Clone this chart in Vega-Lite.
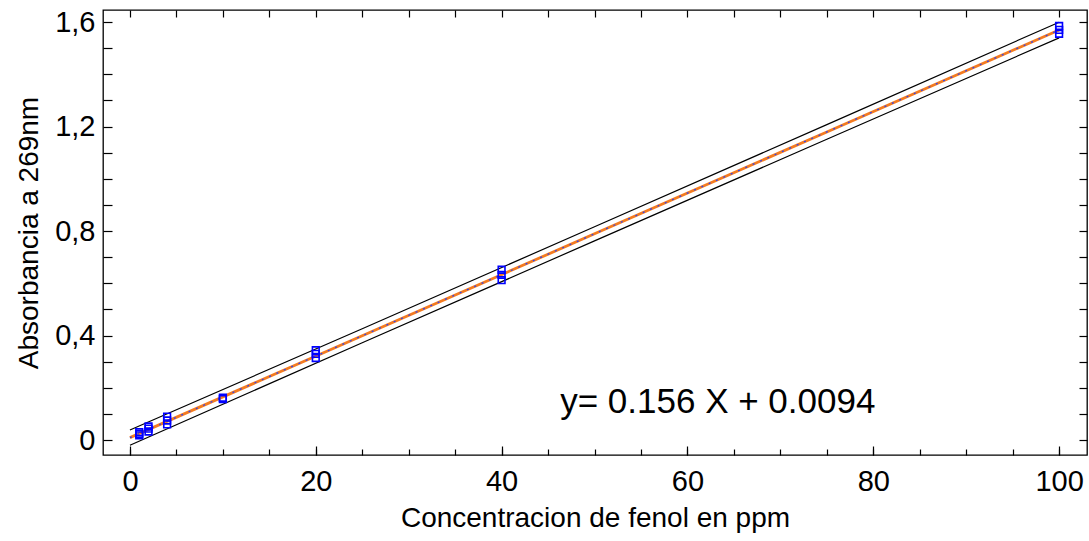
{
  "$schema": "https://vega.github.io/schema/vega-lite/v6.json",
  "width": 984,
  "height": 445,
  "autosize": {"type": "none"},
  "padding": {"left": 103, "top": 10, "right": 2, "bottom": 86},
  "background": "white",
  "config": {
    "view": {"stroke": "#000", "strokeWidth": 1.3},
    "font": "Liberation Sans",
    "axis": {
      "domain": false, "grid": false, "tickColor": "#000", "tickWidth": 1.2,
      "labelColor": "#000", "titleColor": "#000",
      "labelFont": "Liberation Sans", "titleFont": "Liberation Sans",
      "titleFontWeight": "normal", "labelFontSize": 29, "titleFontSize": 28
    }
  },
  "datasets": {
    "pts": [
      {"x": 1, "y": 0.018}, {"x": 1, "y": 0.024}, {"x": 1, "y": 0.03},
      {"x": 2, "y": 0.033}, {"x": 2, "y": 0.044}, {"x": 2, "y": 0.052},
      {"x": 4, "y": 0.06}, {"x": 4, "y": 0.075}, {"x": 4, "y": 0.09},
      {"x": 10, "y": 0.157}, {"x": 10, "y": 0.162},
      {"x": 20, "y": 0.314}, {"x": 20, "y": 0.33}, {"x": 20, "y": 0.344},
      {"x": 40, "y": 0.612}, {"x": 40, "y": 0.632}, {"x": 40, "y": 0.652},
      {"x": 100, "y": 1.555}, {"x": 100, "y": 1.57}, {"x": 100, "y": 1.585}
    ],
    "fit": [
      {"x": 0, "fit": 0.0094, "lower": -0.0196, "upper": 0.0384},
      {"x": 25, "fit": 0.3994, "lower": 0.3724, "upper": 0.4264},
      {"x": 50, "fit": 0.7894, "lower": 0.7624, "upper": 0.8164},
      {"x": 75, "fit": 1.1794, "lower": 1.1514, "upper": 1.2074},
      {"x": 100, "fit": 1.5694, "lower": 1.5394, "upper": 1.5994}
    ],
    "eq": [{"x": 46.3, "y": 0.146, "label": "y= 0.156 X + 0.0094"}]
  },
  "layer": [
    {
      "data": {"name": "fit"},
      "mark": {"type": "line", "color": "#000", "strokeWidth": 1.2},
      "encoding": {
        "x": {"field": "x", "type": "quantitative",
          "scale": {"domain": [-2.9, 103], "nice": false, "zero": false},
          "axis": {"orient": "bottom", "values": [0,5,10,15,20,25,30,35,40,45,50,55,60,65,70,75,80,85,90,95,100],
            "tickSize": -6, "labelPadding": 18,
            "labelExpr": "round(datum.value) % 20 == 0 ? datum.label : ''",
            "title": "Concentracion de fenol en ppm", "titlePadding": 8}},
        "y": {"field": "lower", "type": "quantitative",
          "scale": {"domain": [-0.057, 1.646], "nice": false, "zero": false},
          "axis": {"orient": "left", "values": [0,0.1,0.2,0.3,0.4,0.5,0.6,0.7,0.8,0.9,1,1.1,1.2,1.3,1.4,1.5,1.6],
            "tickSize": -9, "labelPadding": 17,
            "labelExpr": "round(datum.value*10) % 4 == 0 ? (datum.value == 0 ? '0' : replace(format(datum.value, '.1f'), '.', ',')) : ''",
            "title": "Absorbancia a 269nm", "titlePadding": 11}}
      }
    },
    {
      "data": {"name": "fit"},
      "mark": {"type": "line", "color": "#000", "strokeWidth": 1.2},
      "encoding": {
        "x": {"field": "x", "type": "quantitative",
          "axis": {"orient": "top", "values": [0,5,10,15,20,25,30,35,40,45,50,55,60,65,70,75,80,85,90,95,100],
            "tickSize": -7, "labels": false, "title": null}},
        "y": {"field": "upper", "type": "quantitative",
          "axis": {"orient": "right", "values": [0,0.1,0.2,0.3,0.4,0.5,0.6,0.7,0.8,0.9,1,1.1,1.2,1.3,1.4,1.5,1.6],
            "tickSize": -8, "labels": false, "title": null}}
      }
    },
    {
      "data": {"name": "fit"},
      "mark": {"type": "line", "color": "#f47b20", "strokeWidth": 2.8},
      "encoding": {
        "x": {"field": "x", "type": "quantitative",
          "axis": {"orient": "bottom", "values": [0,20,40,60,80,100], "tickSize": -9, "labels": false, "title": null}},
        "y": {"field": "fit", "type": "quantitative", "axis": null}
      }
    },
    {
      "data": {"name": "fit"},
      "mark": {"type": "line", "color": "#3344ee", "strokeWidth": 1.3, "strokeDash": [2, 6]},
      "encoding": {
        "x": {"field": "x", "type": "quantitative", "axis": null},
        "y": {"field": "fit", "type": "quantitative", "axis": null}
      }
    },
    {
      "data": {"name": "pts"},
      "mark": {"type": "point", "shape": "square", "filled": false, "color": "#0000ff", "strokeWidth": 1.6, "size": 45, "opacity": 1},
      "encoding": {
        "x": {"field": "x", "type": "quantitative", "axis": null},
        "y": {"field": "y", "type": "quantitative", "axis": null}
      }
    },
    {
      "data": {"name": "eq"},
      "mark": {"type": "text", "align": "left", "baseline": "middle", "fontSize": 35, "font": "Liberation Sans", "color": "#000"},
      "encoding": {
        "x": {"field": "x", "type": "quantitative", "axis": null},
        "y": {"field": "y", "type": "quantitative", "axis": null},
        "text": {"field": "label"}
      }
    }
  ],
  "resolve": {"axis": {"x": "independent", "y": "independent"}}
}
